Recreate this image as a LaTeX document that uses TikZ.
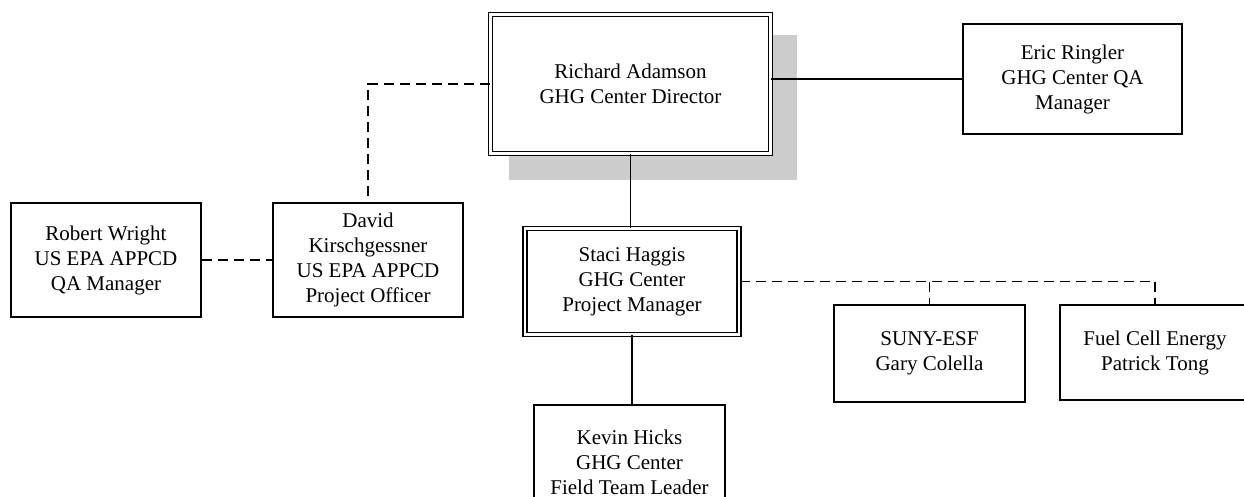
\documentclass[tikz,border=0pt]{standalone}
\usepackage{fontspec}
\setmainfont{Liberation Serif}
\begin{document}
\begin{tikzpicture}[x=1pt,y=-1pt,
  box/.style={draw, line width=1.8pt, inner sep=0pt, align=center, fill=white, font=\fontsize{21}{25}\selectfont},
  dbox/.style={box, double, double distance=2.4pt, line width=1.6pt},
  conn/.style={line width=1.8pt},
  dconn/.style={line width=1.8pt, dash pattern=on 10pt off 6pt}]
\useasboundingbox (0,0) rectangle (1244,497);
\clip (0,0) rectangle (1244,497);
% shadow
\fill[gray!40] (509,35) rectangle (797,180);
% nodes
\node[dbox, minimum width=280pt, minimum height=139pt] (richard) at (630.5,84) {Richard Adamson\\GHG Center Director};
\node[box, minimum width=219pt, minimum height=110pt] (eric) at (1072.5,79) {Eric Ringler\\GHG Center QA\\Manager};
\node[box, minimum width=190pt, minimum height=114pt] (robert) at (106,260) {Robert Wright\\US EPA APPCD\\QA Manager};
\node[box, minimum width=190pt, minimum height=114pt] (david) at (368,260) {David\\Kirschgessner\\US EPA APPCD\\Project Officer};
\node[dbox, minimum width=214pt, minimum height=106pt] (staci) at (632,281.5) {Staci Haggis\\GHG Center\\Project Manager};
\node[box, minimum width=191pt, minimum height=97pt] (suny) at (929.5,353.5) {SUNY-ESF\\Gary Colella};
\node[box, minimum width=190pt, minimum height=95pt] (fuel) at (1155,352.5) {Fuel Cell Energy\\Patrick Tong};
\node[box, minimum width=191pt, minimum height=114pt] (kevin) at (629.5,462) {Kevin Hicks\\GHG Center\\Field Team Leader};
% connectors
\draw[conn] (eric.west) -- (eric.west -| richard.east);
\draw[dconn] (richard.west) -| (david.north);
\draw[dconn] (robert.east) -- (david.west);
\draw[conn] (staci.north -| richard.south) -- (richard.south);
\draw[conn] (staci.south) -- (staci.south |- kevin.north);
\coordinate (jf) at (fuel.north |- staci.east);
\coordinate (js) at (suny.north |- staci.east);
\draw[dconn] (staci.east) -- (jf) -- (fuel.north);
\draw[dconn] (js) -- (suny.north);
\end{tikzpicture}
\end{document}
